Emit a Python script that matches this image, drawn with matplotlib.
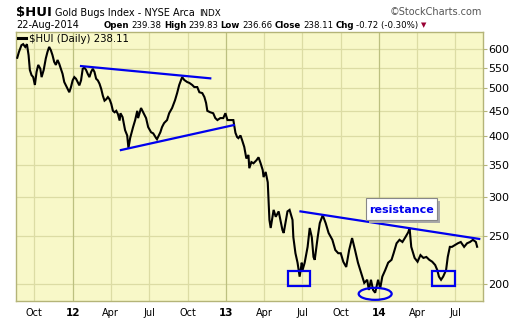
import numpy as np
import pandas as pd
import matplotlib
matplotlib.use("Agg")
import matplotlib.pyplot as plt
import matplotlib.dates as mdates
from matplotlib.patches import Rectangle, Ellipse
from matplotlib.transforms import ScaledTranslation

# $HUI daily close (roughly weekly samples)
dates = [
    "2011-08-22", "2011-08-26", "2011-09-01", "2011-09-05", "2011-09-10", "2011-09-14",
    "2011-09-18", "2011-09-21", "2011-09-25", "2011-09-29", "2011-10-03", "2011-10-07",
    "2011-10-11", "2011-10-16", "2011-10-19", "2011-10-24", "2011-10-29", "2011-11-02",
    "2011-11-06", "2011-11-10", "2011-11-14", "2011-11-18", "2011-11-22", "2011-11-26",
    "2011-11-30", "2011-12-04", "2011-12-08", "2011-12-12", "2011-12-16", "2011-12-20",
    "2011-12-24", "2011-12-28", "2012-01-01", "2012-01-05", "2012-01-09", "2012-01-13",
    "2012-01-17", "2012-01-21", "2012-01-25", "2012-01-29", "2012-02-02", "2012-02-06",
    "2012-02-10", "2012-02-14", "2012-02-18", "2012-02-22", "2012-02-26", "2012-03-01",
    "2012-03-05", "2012-03-09", "2012-03-13", "2012-03-17", "2012-03-21", "2012-03-25",
    "2012-03-29", "2012-04-02", "2012-04-06", "2012-04-10", "2012-04-14", "2012-04-18",
    "2012-04-22", "2012-04-24", "2012-04-29", "2012-05-05", "2012-05-10", "2012-05-13",
    "2012-05-17", "2012-05-24", "2012-05-29", "2012-06-03", "2012-06-05", "2012-06-12",
    "2012-06-17", "2012-06-24", "2012-06-29", "2012-07-06", "2012-07-11", "2012-07-18",
    "2012-07-20", "2012-07-28", "2012-08-01", "2012-08-06", "2012-08-13", "2012-08-18",
    "2012-08-25", "2012-09-01", "2012-09-06", "2012-09-11", "2012-09-18", "2012-09-23",
    "2012-09-30", "2012-10-05", "2012-10-12", "2012-10-17", "2012-10-24", "2012-10-29",
    "2012-11-05", "2012-11-10", "2012-11-14", "2012-11-17", "2012-11-24", "2012-12-01",
    "2012-12-06", "2012-12-11", "2012-12-18", "2012-12-25", "2012-12-30", "2013-01-04",
    "2013-01-11", "2013-01-18", "2013-01-23", "2013-01-27", "2013-01-30", "2013-02-04",
    "2013-02-08", "2013-02-13", "2013-02-18", "2013-02-23", "2013-02-25", "2013-03-02",
    "2013-03-07", "2013-03-14", "2013-03-19", "2013-03-24", "2013-03-29", "2013-03-31",
    "2013-04-05", "2013-04-10", "2013-04-12", "2013-04-14", "2013-04-17", "2013-04-24",
    "2013-04-29", "2013-05-06", "2013-05-15", "2013-05-18", "2013-05-27", "2013-06-01",
    "2013-06-08", "2013-06-10", "2013-06-15", "2013-06-20", "2013-06-25", "2013-06-30",
    "2013-07-02", "2013-07-07", "2013-07-14", "2013-07-19", "2013-07-24", "2013-07-28",
    "2013-07-31", "2013-08-07", "2013-08-12", "2013-08-19", "2013-08-26", "2013-09-02",
    "2013-09-11", "2013-09-18", "2013-09-25", "2013-10-01", "2013-10-07", "2013-10-14",
    "2013-10-21", "2013-10-28", "2013-11-04", "2013-11-11", "2013-11-18", "2013-11-26",
    "2013-12-03", "2013-12-07", "2013-12-12", "2013-12-17", "2013-12-22", "2013-12-29",
    "2014-01-03", "2014-01-08", "2014-01-15", "2014-01-22", "2014-01-30", "2014-02-04",
    "2014-02-11", "2014-02-18", "2014-02-25", "2014-03-04", "2014-03-11", "2014-03-14",
    "2014-03-18", "2014-03-26", "2014-04-02", "2014-04-09", "2014-04-16", "2014-04-23",
    "2014-04-30", "2014-05-07", "2014-05-14", "2014-05-19", "2014-05-23", "2014-05-28",
    "2014-06-02", "2014-06-09", "2014-06-13", "2014-06-18", "2014-06-23", "2014-06-30",
    "2014-07-07", "2014-07-14", "2014-07-22", "2014-07-29", "2014-08-05", "2014-08-12",
    "2014-08-19", "2014-08-22",
]
closes = [
    577, 593, 612, 615, 607, 615,
    584, 545, 532, 527, 508, 540,
    558, 548, 527, 545, 575, 593,
    607, 598, 584, 566, 558, 571,
    561, 548, 535, 515, 507, 499,
    491, 503, 519, 527, 523, 515,
    507, 519, 548, 551, 545, 535,
    527, 540, 548, 540, 523, 519,
    511, 499, 483, 472, 475, 480,
    475, 465, 450, 447, 450, 443,
    430, 445, 437, 411, 401, 378,
    396, 417, 431, 450, 435, 456,
    447, 435, 417, 407, 405, 396,
    394, 407, 417, 425, 431, 445,
    456, 473, 489, 508, 527, 520,
    515, 513, 508, 503, 503, 491,
    489, 480, 467, 450, 447, 445,
    435, 431, 435, 435, 445, 431,
    431, 431, 406, 398, 396, 401,
    392, 380, 360, 366, 344, 354,
    352, 357, 362, 352, 341, 330,
    338, 322, 296, 270, 260, 283,
    274, 281, 257.5, 254, 281, 283,
    270, 249, 231, 221, 207, 221,
    213.5, 221, 238, 260, 249, 227,
    224, 249, 266, 276, 266, 254,
    246, 234.5, 231, 231, 222, 216.6,
    234.5, 248, 234.5, 221, 211.6, 201,
    204, 194.5, 204, 194.5, 192, 204,
    196, 207, 213.5, 221, 224, 231,
    242, 246, 243.5, 249, 255, 260,
    238, 226, 222, 229, 226, 227,
    224, 222, 218.6, 213.5, 207, 204,
    207, 213.5, 227, 238, 238, 240,
    242, 243.5, 238, 242, 243.5, 246,
    243.5, 238.11,
]

# hand-drawn trendlines: (start date, start value, end date, end value)
trend_lines = [
    ("2012-01-21", 555, "2012-11-24", 524),
    ("2012-04-25", 374.5, "2013-01-19", 421),
    ("2013-06-27", 281, "2014-08-27", 247),
]
# highlight boxes: (left date, right date, low value, high value)
boxes = [
    ("2013-05-29", "2013-07-19", 198, 212.6),
    ("2014-05-07", "2014-06-30", 198, 212.6),
]
ring_date, ring_value = "2013-12-22", 191.0

y_ticks = [200, 250, 300, 350, 400, 450, 500, 550, 600]
quarters = pd.date_range("2011-10-01", "2014-07-01", freq="QS")

bg = "#f8f8c8"
grid_c = "#dcdca4"
year_c = "#bcc080"
frame_c = "#b4b478"

W, H = 520, 318
fig = plt.figure(figsize=(W / 100, H / 100), dpi=100)
fig.patch.set_facecolor("white")
ax = fig.add_axes([16 / W, 1 - 301 / H, (483 - 16) / W, (301 - 32) / H])
ax.set_facecolor(bg)

x = pd.to_datetime(dates)
ax.plot(x, closes, color="black", lw=1.5, zorder=4, solid_joinstyle="miter")

ax.set_yscale("log")
ax.set_ylim(184.7, 651)
ax.set_xlim(pd.Timestamp("2011-08-19"), pd.Timestamp("2014-09-05"))

ax.yaxis.tick_right()
ax.set_yticks(y_ticks)
ax.set_yticklabels([str(v) for v in y_ticks])
ax.yaxis.set_minor_locator(matplotlib.ticker.NullLocator())
ax.tick_params(axis="y", which="major", length=3, color=frame_c, labelsize=8, pad=1)

ax.set_xticks(quarters)
labels = []
for q in quarters:
    labels.append(q.strftime("%y") if q.month == 1 else q.strftime("%b"))
ax.set_xticklabels(labels)
ax.xaxis.set_minor_locator(matplotlib.ticker.NullLocator())
ax.tick_params(axis="x", length=0, labelsize=7, pad=5)
for lab, q in zip(ax.get_xticklabels(), quarters):
    if q.month == 1:
        lab.set_fontweight("bold")
        lab.set_fontsize(7.5)

for v in y_ticks:
    ax.axhline(v, color=grid_c, lw=0.9, zorder=1)
for q in quarters:
    ax.axvline(q, color=year_c if q.month == 1 else grid_c, lw=0.9, zorder=1)

for s in ax.spines.values():
    s.set_color(frame_c)
    s.set_linewidth(1.0)

for d0, v0, d1, v1 in trend_lines:
    ax.plot(pd.to_datetime([d0, d1]), [v0, v1], color="#0000ee", lw=1.6, zorder=5)

for d0, d1, lo, hi in boxes:
    x0 = mdates.date2num(pd.Timestamp(d0))
    x1 = mdates.date2num(pd.Timestamp(d1))
    ax.add_patch(Rectangle((x0, lo), x1 - x0, hi - lo, fill=False,
                           edgecolor="#0000ee", lw=1.6, zorder=5))

# ring around the Dec-2013 low, sized in inches around its data point
off = ScaledTranslation(mdates.date2num(pd.Timestamp(ring_date)), ring_value, ax.transData)
ax.add_patch(Ellipse((0, 0), 0.33, 0.12, fill=False, edgecolor="#0000ee", lw=1.6,
                     transform=fig.dpi_scale_trans + off, zorder=5))


def px(xp, yp):
    return xp / W, 1 - yp / H


renderer = fig.canvas.get_renderer()


def chain(x0, yp, parts, gap=3.5):
    # lay text pieces left to right, each after the previous one's right edge
    xp = x0
    for s, kw in parts:
        t = fig.text(*px(xp, yp), s, va="baseline", ha="left", **kw)
        bb = t.get_window_extent(renderer)
        xp = bb.x1 + gap
    return xp


# "resistance" label box with drop shadow
sx, sy = px(369, 223)
fig.patches.append(Rectangle((sx, sy), 71 / W, 22 / H, transform=fig.transFigure,
                             facecolor="#a8a8a8", edgecolor="none", zorder=6))
bx, by = px(366, 220)
fig.patches.append(Rectangle((bx, by), 71 / W, 22 / H, transform=fig.transFigure,
                             facecolor="white", edgecolor="#888888", lw=0.8, zorder=7))
fig.text(*px(401, 210), "resistance", color="#0000ee", fontsize=8, fontweight="bold",
         ha="center", va="center", zorder=8)

# legend row
fig.add_artist(plt.Line2D([18 / W, 26 / W], [1 - 38 / H, 1 - 38 / H], color="black", lw=2.2))
fig.text(*px(29, 38.5), "$HUI (Daily) 238.11", fontsize=7.3, va="center", ha="left")

# header
chain(16, 16, [
    ("$HUI", dict(fontsize=9.5, fontweight="bold")),
    ("Gold Bugs Index - NYSE Arca", dict(fontsize=7)),
    ("INDX", dict(fontsize=6.3)),
])
fig.text(*px(482, 15), "\u00a9StockCharts.com", fontsize=7, color="#555555",
         va="baseline", ha="right")

fig.text(*px(16, 28), "22-Aug-2014", fontsize=7, va="baseline")
hs = 6.2
end = chain(104, 28, [
    ("Open", dict(fontsize=hs, fontweight="bold")), ("239.38", dict(fontsize=hs)),
    ("High", dict(fontsize=hs, fontweight="bold")), ("239.83", dict(fontsize=hs)),
    ("Low", dict(fontsize=hs, fontweight="bold")), ("236.66", dict(fontsize=hs)),
    ("Close", dict(fontsize=hs, fontweight="bold")), ("238.11", dict(fontsize=hs)),
    ("Chg", dict(fontsize=hs, fontweight="bold")), ("-0.72 (-0.30%)", dict(fontsize=hs)),
], gap=2.2)
fig.text(end / W + 1 / W, 1 - 25 / H, "\u25bc", fontsize=5, color="#990033",
         ha="left", va="center")

fig.savefig("out.png", dpi=100)
